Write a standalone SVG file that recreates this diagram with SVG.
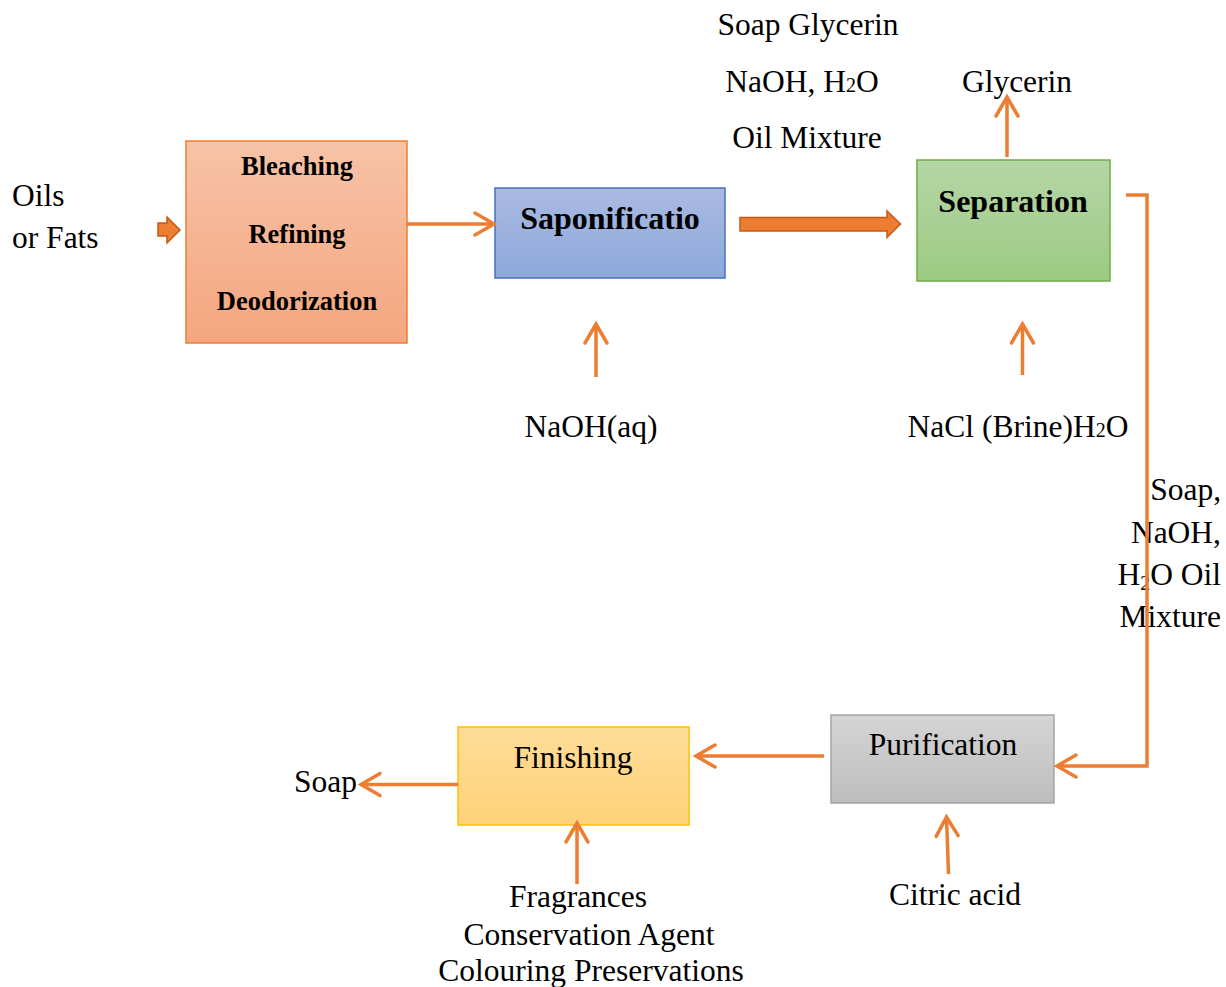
<svg xmlns="http://www.w3.org/2000/svg" width="1226" height="987" viewBox="0 0 1226 987">
  <style>
    text { font-family: "Liberation Serif", "Times New Roman", serif; fill: #000; }
    .t { font-size: 31.5px; }
    .c { text-anchor: middle; }
    .e { text-anchor: end; }
    .bs { font-size: 26.5px; font-weight: bold; text-anchor: middle; }
    .bl { font-size: 32px; font-weight: bold; text-anchor: middle; }
    .sub { font-size: 20px; }
    .flow { fill: none; stroke: #ED7D31; stroke-width: 3.5; }
    .block { fill: #ED7D31; stroke: #C55A11; stroke-width: 1.5; stroke-linejoin: miter; }
  </style>
  <defs>
    <linearGradient id="gOrange" x1="0" y1="0" x2="0" y2="1">
      <stop offset="0" stop-color="#F7C3A7"/>
      <stop offset="1" stop-color="#F4A67F"/>
    </linearGradient>
    <linearGradient id="gBlue" x1="0" y1="0" x2="0" y2="1">
      <stop offset="0" stop-color="#AABAE3"/>
      <stop offset="1" stop-color="#8DA8DB"/>
    </linearGradient>
    <linearGradient id="gGreen" x1="0" y1="0" x2="0" y2="1">
      <stop offset="0" stop-color="#B5D6A6"/>
      <stop offset="1" stop-color="#9DCA82"/>
    </linearGradient>
    <linearGradient id="gGray" x1="0" y1="0" x2="0" y2="1">
      <stop offset="0" stop-color="#D5D5D5"/>
      <stop offset="1" stop-color="#BDBDBD"/>
    </linearGradient>
    <linearGradient id="gYellow" x1="0" y1="0" x2="0" y2="1">
      <stop offset="0" stop-color="#FFDC97"/>
      <stop offset="1" stop-color="#FFD27A"/>
    </linearGradient>
    <marker id="open" markerUnits="userSpaceOnUse" markerWidth="26" markerHeight="30" viewBox="0 0 26 30" refX="22" refY="15" orient="auto">
      <path d="M3,4 L22,15 L3,26" fill="none" stroke="#ED7D31" stroke-width="3.5" stroke-linecap="round" stroke-linejoin="miter"/>
    </marker>
  </defs>

  <!-- process blocks -->
  <g id="bleaching">
    <rect x="186" y="141" width="221" height="202" fill="url(#gOrange)" stroke="#ED7D31" stroke-width="1.5"/>
    <text class="bs" x="297" y="175">Bleaching</text>
    <text class="bs" x="297" y="243">Refining</text>
    <text class="bs" x="297" y="310">Deodorization</text>
  </g>
  <g id="saponification">
    <rect x="495" y="188" width="230" height="90" fill="url(#gBlue)" stroke="#4472C4" stroke-width="1.5"/>
    <text class="bl" x="610" y="229">Saponificatio</text>
  </g>
  <g id="separation">
    <rect x="917" y="160" width="193" height="121" fill="url(#gGreen)" stroke="#70AD47" stroke-width="1.5"/>
    <text class="bl" x="1013" y="212">Separation</text>
  </g>
  <g id="purification">
    <rect x="831" y="715" width="223" height="88" fill="url(#gGray)" stroke="#A5A5A5" stroke-width="1.5"/>
    <text class="t c" x="943" y="755">Purification</text>
  </g>
  <g id="finishing">
    <rect x="458" y="727" width="231" height="98" fill="url(#gYellow)" stroke="#FFC000" stroke-width="1.5"/>
    <text class="t c" x="573" y="768">Finishing</text>
  </g>

  <!-- inputs, outputs and stream labels -->
  <g id="labels">
    <text class="t" x="12" y="206">Oils</text>
    <text class="t" x="12" y="248">or Fats</text>
    <text class="t c" x="808" y="35">Soap Glycerin</text>
    <text class="t c" x="802" y="92">NaOH, H<tspan class="sub">2</tspan>O</text>
    <text class="t c" x="807" y="148">Oil Mixture</text>
    <text class="t c" x="1017" y="92">Glycerin</text>
    <text class="t c" x="591" y="437">NaOH(aq)</text>
    <text class="t c" x="1018" y="437">NaCl (Brine)H<tspan class="sub">2</tspan>O</text>
    <text class="t e" x="1221" y="500">Soap,</text>
    <text class="t e" x="1221" y="543">NaOH,</text>
    <text class="t e" x="1221" y="585">H<tspan class="sub" dy="5">2</tspan><tspan dy="-5">O Oil</tspan></text>
    <text class="t e" x="1221" y="627">Mixture</text>
    <text class="t e" x="357" y="792">Soap</text>
    <text class="t c" x="578" y="907">Fragrances</text>
    <text class="t c" x="589" y="945">Conservation Agent</text>
    <text class="t c" x="591" y="981">Colouring Preservations</text>
    <text class="t c" x="955" y="905">Citric acid</text>
  </g>

  <!-- connectors -->
  <g id="connectors">
    <path class="block" d="M158,223 L167,223 L167,217 L180,230 L167,243 L167,236 L158,236 Z"/>
    <path class="block" d="M740,217.5 L887,217.5 L887,211 L900.5,224 L887,237.5 L887,231 L740,231 Z"/>
    <line class="flow" x1="407" y1="224" x2="494" y2="224" marker-end="url(#open)"/>
    <line class="flow" x1="596" y1="377" x2="596" y2="324" marker-end="url(#open)"/>
    <line class="flow" x1="1022.5" y1="375" x2="1022.5" y2="324" marker-end="url(#open)"/>
    <line class="flow" x1="1007" y1="157" x2="1007" y2="97" marker-end="url(#open)"/>
    <polyline class="flow" points="1126,195 1147,195 1147,766 1057,766" marker-end="url(#open)"/>
    <line class="flow" x1="824" y1="756" x2="696" y2="756" marker-end="url(#open)"/>
    <line class="flow" x1="458" y1="784.5" x2="361" y2="784.5" marker-end="url(#open)"/>
    <line class="flow" x1="577" y1="884" x2="577" y2="823" marker-end="url(#open)"/>
    <line class="flow" x1="948.5" y1="874" x2="946.5" y2="817" marker-end="url(#open)"/>
  </g>
</svg>
